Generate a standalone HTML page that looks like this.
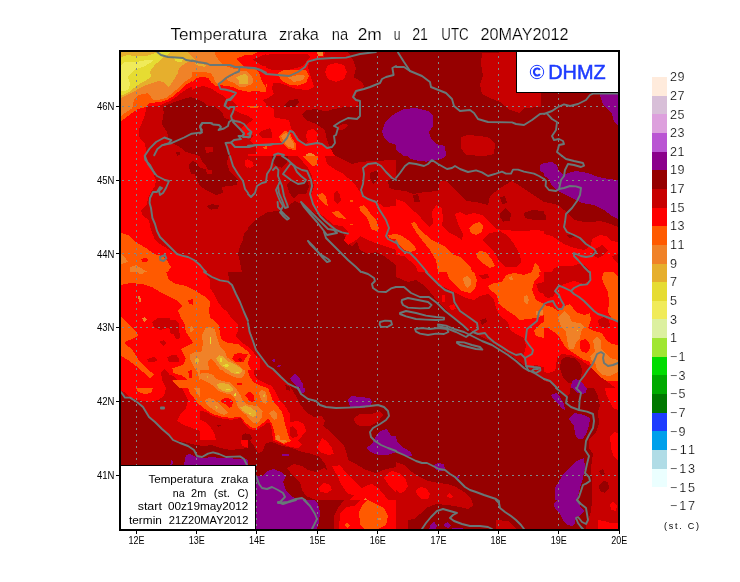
<!DOCTYPE html>
<html><head><meta charset="utf-8"><title>Temperatura zraka na 2m</title>
<style>
html,body{margin:0;padding:0;background:#fff;}
body{width:740px;height:582px;overflow:hidden;position:relative;font-family:"Liberation Sans",sans-serif;}
svg{position:absolute;left:0;top:0;will-change:transform;}
text{font-family:"Liberation Sans",sans-serif;fill:#000;}
.thin{stroke:#fff;stroke-width:0.22px;}
.cb text{stroke:#fff;stroke-width:0.2px;}
.ax{font-size:10px;}
.lg{font-size:10px;}
.cb{font-size:12.6px;}
</style></head><body>
<svg width="740" height="582" viewBox="0 0 740 582">
<defs>
<clipPath id="mapclip"><rect x="120" y="51" width="499" height="479"/></clipPath>
<clipPath id="c0"><rect x="100.0" y="40.0" width="148.0" height="116.0"/></clipPath>
<clipPath id="c1"><rect x="248.0" y="52.0" width="148.0" height="104.0"/></clipPath>
<clipPath id="c2"><rect x="396.0" y="40.0" width="148.0" height="116.0"/></clipPath>
<clipPath id="c3"><rect x="544.0" y="40.0" width="148.0" height="116.0"/></clipPath>
<clipPath id="c4"><rect x="100.0" y="156.0" width="148.0" height="116.0"/></clipPath>
<clipPath id="c5"><rect x="248.0" y="156.0" width="148.0" height="116.0"/></clipPath>
<clipPath id="c6"><rect x="396.0" y="156.0" width="148.0" height="116.0"/></clipPath>
<clipPath id="c7"><rect x="544.0" y="156.0" width="148.0" height="116.0"/></clipPath>
<clipPath id="c8"><rect x="100.0" y="272.0" width="148.0" height="116.0"/></clipPath>
<clipPath id="c9"><rect x="248.0" y="272.0" width="148.0" height="116.0"/></clipPath>
<clipPath id="c10"><rect x="396.0" y="272.0" width="148.0" height="116.0"/></clipPath>
<clipPath id="c11"><rect x="544.0" y="272.0" width="148.0" height="116.0"/></clipPath>
<clipPath id="c12"><rect x="100.0" y="388.0" width="148.0" height="116.0"/></clipPath>
<clipPath id="c13"><rect x="248.0" y="388.0" width="148.0" height="116.0"/></clipPath>
<clipPath id="c14"><rect x="396.0" y="388.0" width="148.0" height="116.0"/></clipPath>
<clipPath id="c15"><rect x="544.0" y="388.0" width="148.0" height="116.0"/></clipPath>
<clipPath id="c16"><rect x="248.0" y="500.0" width="148.0" height="40.0"/></clipPath>
<clipPath id="c17"><rect x="396.0" y="500.0" width="148.0" height="40.0"/></clipPath>
<clipPath id="c18"><rect x="544.0" y="500.0" width="148.0" height="40.0"/></clipPath>
<clipPath id="c19"><rect x="118.0" y="106.0" width="94.0" height="68.0"/></clipPath>
<clipPath id="c20"><rect x="118.0" y="48.0" width="74.0" height="58.0"/></clipPath>
<clipPath id="c21"><rect x="192.0" y="48.0" width="74.0" height="58.0"/></clipPath>
<clipPath id="c22"><rect x="200.0" y="106.0" width="74.0" height="48.0"/></clipPath>
<clipPath id="c23"><rect x="170.0" y="310.0" width="90.0" height="70.0"/></clipPath>
<clipPath id="c24"><rect x="200.0" y="370.0" width="90.0" height="70.0"/></clipPath>
</defs>
<rect x="0" y="0" width="740" height="582" fill="#fff"/>
<g clip-path="url(#mapclip)" shape-rendering="crispEdges">
<rect x="120" y="51" width="499" height="479" fill="#960000"/>
<g clip-path="url(#c0)">
<rect x="100.0" y="40.0" width="148.0" height="116.0" fill="#FF0000"/>
<polygon fill="#F08228" points="121.0,98.0 130.0,100.0 133.0,106.0 130.0,110.0 126.0,116.0 121.0,121.0"/>
<polygon fill="#FF5A00" points="133.0,106.0 146.0,106.0 140.0,110.0 132.0,117.0 126.0,122.0 121.0,125.6 121.0,121.0 126.0,116.0 130.0,110.0"/>
<polygon fill="#C80000" points="157.0,106.0 148.0,112.0 144.0,120.0 140.0,130.0 139.0,138.0 141.0,148.0 145.0,156.0 248.0,156.0 248.0,116.0 240.0,113.0 234.4,110.0 235.0,107.0 237.0,102.0 234.0,96.0 220.0,94.0 200.0,86.0 180.0,94.0 168.0,100.0"/>
<polygon fill="#960000" points="166.0,106.0 164.0,114.0 162.0,124.0 166.0,134.0 170.0,140.0 180.0,146.0 184.0,152.0 188.0,156.0 230.0,156.0 229.0,154.0 227.0,148.0 226.0,143.0 231.0,142.0 233.0,140.0 241.0,139.0 240.0,136.0 243.0,133.0 240.0,129.0 235.0,124.0 233.0,122.0 230.0,120.0 224.0,118.0 223.0,113.0 218.0,109.0 210.0,103.0 200.0,99.0 186.0,100.0 178.0,102.0"/>
</g>
<g clip-path="url(#c1)">
<rect x="248.0" y="52.0" width="148.0" height="104.0" fill="#FF0000"/>
<polygon fill="#C80000" points="257.0,58.0 264.0,55.0 278.0,53.6 286.0,54.4 300.0,54.0 308.0,54.4 310.0,57.0 306.0,62.0 302.0,66.0 296.0,68.0 288.0,70.0 272.0,70.0 262.0,66.0 257.0,62.0"/>
<polygon fill="#C80000" points="273.0,83.0 280.0,83.0 288.0,86.0 296.0,89.0 308.0,90.0 314.0,87.0 312.0,80.0 309.0,72.0 308.0,66.0 310.4,60.0 316.0,58.4 324.0,56.4 325.0,52.0 396.0,52.0 396.0,156.0 335.0,156.0 332.0,149.0 326.0,148.0 321.0,143.0 317.0,141.0 318.0,134.0 314.0,129.0 308.0,130.0 306.0,136.0 308.0,142.0 305.0,144.0 300.0,140.0 296.0,134.0 291.0,128.0 289.0,120.0 282.0,119.0 273.0,117.0 270.0,110.0 266.0,106.0 263.0,100.0 268.0,98.0 274.0,94.0 272.0,89.0"/>
<polygon fill="#FF0000" points="325.0,72.0 328.0,65.0 336.0,63.0 344.0,65.0 347.0,72.0 344.0,79.0 336.0,82.0 328.0,79.0"/>
<polygon fill="#FF0000" points="308.0,134.0 314.0,131.0 318.0,136.0 315.0,140.0 309.0,139.0"/>
<polygon fill="#C80000" points="258.0,130.0 264.0,128.0 272.0,129.0 273.0,134.0 268.0,138.0 260.0,138.0 256.0,134.0"/>
<polygon fill="#960000" points="348.0,52.0 353.0,60.0 356.0,68.0 353.6,77.0 363.0,83.0 364.0,87.0 357.0,92.0 355.0,98.0 358.0,102.0 359.0,107.0 344.0,107.0 334.0,109.0 326.0,111.6 316.0,109.0 306.0,110.4 302.0,114.4 306.0,120.0 316.0,124.0 325.0,130.0 327.0,140.0 330.0,148.0 335.0,156.0 396.0,156.0 396.0,52.0"/>
<polygon fill="#960000" points="284.0,106.0 289.0,100.0 298.0,99.0 299.0,102.4 295.0,107.0 286.0,107.4"/>
<polygon fill="#C80000" points="337.0,127.0 344.0,123.6 348.0,125.0 345.0,129.0 339.0,130.4"/>
<polygon fill="#FF5A00" points="248.0,69.0 258.0,70.0 264.0,76.0 267.0,86.0 262.0,91.0 256.0,93.0 248.0,92.4"/>
<polygon fill="#F08228" points="248.0,73.0 254.0,74.0 258.0,80.0 256.0,86.0 248.0,87.6"/>
<polygon fill="#FF5A00" points="278.0,73.0 284.0,70.0 294.0,70.0 306.0,70.0 309.0,76.0 306.0,83.0 298.0,85.6 288.0,84.4 281.0,80.0"/>
<polygon fill="#F08228" points="288.0,77.6 298.0,75.0 305.0,75.6 303.0,80.0 294.0,82.0"/>
<polygon fill="#FF5A00" points="248.0,99.0 254.0,99.0 257.0,103.0 255.0,107.6 248.0,108.4"/>
<polygon fill="#FF5A00" points="279.0,136.0 284.0,131.0 290.0,132.0 292.0,138.0 296.0,144.0 296.0,150.0 288.0,149.0 283.0,144.0 280.0,140.0"/>
<polygon fill="#F08228" points="281.0,136.4 285.0,133.2 289.0,134.0 290.6,138.4 294.4,144.0 294.4,148.0 289.0,147.2 285.0,143.0"/>
<polygon fill="#F08228" points="306.0,154.0 310.0,153.0 314.0,154.0 315.0,156.0 306.0,156.0"/>
<polygon fill="#F08228" points="317.0,52.4 323.0,52.4 323.0,55.6 318.0,55.6"/>
<polygon fill="#8B008B" points="396.0,113.0 390.0,117.0 385.0,123.0 382.0,131.0 384.0,138.0 390.0,143.0 396.0,145.0"/>
</g>
<g clip-path="url(#c2)">
<rect x="396.0" y="40.0" width="148.0" height="116.0" fill="#960000"/>
<polygon fill="#C80000" points="482.0,53.0 516.0,52.0 516.0,92.0 541.0,93.0 541.0,107.0 524.0,108.0 520.0,113.0 510.0,110.0 500.0,102.0 490.0,98.0 482.0,94.0 480.0,84.0 483.0,76.0 481.0,64.0"/>
<polygon fill="#C80000" points="461.0,137.0 468.0,135.0 480.0,136.0 490.0,138.0 495.0,144.0 494.0,154.0 484.0,156.0 466.0,155.0 461.0,148.0"/>
<polygon fill="#8B008B" points="396.0,113.0 404.0,109.0 416.0,108.0 428.0,111.0 433.0,116.0 433.0,126.0 429.0,132.0 431.0,139.0 436.0,144.0 445.0,146.0 446.0,156.0 404.0,156.0 396.0,150.0"/>
</g>
<g clip-path="url(#c3)">
<rect x="544.0" y="40.0" width="148.0" height="116.0" fill="#960000"/>
<polygon fill="#8B008B" points="599.0,93.0 618.0,93.0 618.0,126.0 614.0,122.0 612.0,114.0 608.0,110.0 603.0,104.0 601.0,98.0"/>
</g>
<g clip-path="url(#c4)">
<rect x="100.0" y="156.0" width="148.0" height="116.0" fill="#C80000"/>
<polygon fill="#FF0000" points="121.0,156.0 145.0,156.0 148.0,164.0 153.0,173.0 156.0,180.0 155.0,186.0 151.0,192.0 148.0,198.0 147.0,204.0 141.0,211.0 143.0,216.0 149.0,220.0 151.0,230.0 155.0,240.0 160.0,244.0 168.0,249.0 178.0,255.0 186.0,256.0 194.0,260.0 202.0,267.0 204.0,272.0 121.0,272.0"/>
<polygon fill="#FF5A00" points="121.0,233.0 128.0,235.0 136.0,242.0 146.0,248.0 154.0,254.0 162.0,256.0 168.0,262.0 171.0,267.0 168.0,272.0 121.0,272.0"/>
<polygon fill="#F08228" points="121.0,254.0 125.0,257.0 128.0,262.0 121.0,264.0"/>
<polygon fill="#F08228" points="130.0,267.0 136.0,265.0 146.0,271.0 147.0,272.0 130.0,272.0"/>
<polygon fill="#FF0000" points="141.0,259.0 146.0,257.6 149.0,260.0 146.0,262.0 142.0,261.6"/>
<polygon fill="#960000" points="188.0,164.0 194.0,161.0 202.0,159.0 204.0,156.0 228.0,156.0 227.0,164.0 230.0,172.0 238.0,180.0 237.0,185.0 228.0,186.0 222.0,187.0 223.0,193.0 216.0,195.0 206.0,190.0 200.0,186.0 196.0,178.0 194.0,170.0"/>
<polygon fill="#960000" points="206.0,206.0 212.0,204.0 219.0,205.6 218.0,209.0 211.0,209.6"/>
<polygon fill="#960000" points="248.0,230.0 244.0,233.0 243.0,240.0 240.0,246.0 238.0,254.0 240.0,262.0 242.0,272.0 248.0,272.0"/>
<polygon fill="#FF0000" points="245.0,160.0 248.0,159.0 248.0,168.0 245.6,167.0"/>
</g>
<g clip-path="url(#c5)">
<rect x="248.0" y="156.0" width="148.0" height="116.0" fill="#C80000"/>
<polygon fill="#960000" points="248.0,227.0 258.0,218.0 268.0,212.0 278.0,211.0 288.0,206.0 295.0,201.0 302.0,204.0 308.0,208.0 316.0,214.0 324.0,222.0 332.0,230.0 344.0,234.0 346.0,242.0 352.0,246.0 357.0,242.0 360.0,250.0 368.0,254.0 376.0,252.0 384.0,256.0 392.0,262.0 396.0,265.0 396.0,272.0 248.0,272.0"/>
<polygon fill="#960000" points="287.0,185.0 291.0,180.0 300.0,184.0 307.0,180.0 309.0,187.0 306.0,194.0 298.0,194.0 294.0,199.0 289.0,192.0"/>
<polygon fill="#960000" points="272.0,156.0 288.0,156.0 287.0,162.0 282.0,168.0 276.0,166.0 272.0,162.0"/>
<polygon fill="#960000" points="336.0,156.0 396.0,156.0 396.0,160.0 372.0,161.0 360.0,162.0 352.0,164.0 344.0,160.0"/>
<polygon fill="#960000" points="370.0,173.0 378.0,170.0 378.0,180.0 373.0,184.0 370.0,178.0"/>
<polygon fill="#960000" points="388.0,180.0 396.0,178.0 396.0,190.0 389.0,188.0"/>
<polygon fill="#FF0000" points="298.0,156.0 325.0,156.0 327.0,164.0 336.0,170.0 342.0,173.0 348.0,178.0 356.0,186.0 363.0,196.0 376.0,201.0 384.0,207.0 396.0,206.0 396.0,250.0 388.0,247.0 378.0,244.0 368.0,240.0 360.0,236.0 356.0,240.0 348.0,245.0 344.0,240.0 348.0,232.0 342.0,226.0 334.0,225.0 328.0,220.0 318.0,212.0 314.0,206.0 311.0,196.0 314.0,186.0 312.0,176.0 308.0,168.0"/>
<polygon fill="#FF0000" points="248.0,160.0 252.0,161.0 254.0,166.0 250.0,168.0 248.0,167.0"/>
<polygon fill="#C80000" points="334.0,193.0 337.0,190.0 340.0,195.0 341.0,201.0 337.0,204.0 334.0,200.0"/>
<polygon fill="#FF5A00" points="303.0,156.0 318.0,156.0 317.0,165.0 312.0,166.0 307.0,161.0"/>
<polygon fill="#FF5A00" points="318.0,195.0 322.0,193.0 326.0,197.0 328.0,206.0 324.0,204.0 319.0,199.0"/>
<polygon fill="#FF5A00" points="332.0,212.0 338.0,211.0 344.0,216.0 346.0,219.0 339.0,218.0 334.0,215.0"/>
<polygon fill="#FF5A00" points="359.0,207.0 364.0,205.0 368.0,210.0 372.0,216.0 376.0,220.0 379.0,228.0 376.0,231.0 371.0,229.0 369.0,222.0 366.0,216.0 361.0,212.0"/>
<polygon fill="#FF5A00" points="350.0,200.4 353.0,200.4 353.0,202.4 350.0,202.4"/>
<polygon fill="#FF5A00" points="350.0,223.6 353.0,223.6 353.0,225.2 350.0,225.2"/>
<polygon fill="#FF5A00" points="388.0,235.0 396.0,234.0 396.0,239.0 390.0,238.4"/>
</g>
<g clip-path="url(#c6)">
<rect x="396.0" y="156.0" width="148.0" height="116.0" fill="#960000"/>
<polygon fill="#C80000" points="396.0,190.0 406.0,191.0 413.0,194.0 418.0,193.0 426.0,192.0 438.0,191.0 440.0,181.0 446.0,181.0 454.0,189.0 462.0,196.0 466.0,201.0 476.0,202.0 488.0,205.0 490.0,196.0 500.0,188.0 512.0,181.0 520.0,186.0 532.0,194.0 544.0,202.0 544.0,272.0 396.0,272.0"/>
<polygon fill="#960000" points="413.0,195.0 418.0,194.0 420.0,202.0 414.0,201.6"/>
<polygon fill="#960000" points="500.0,197.0 505.0,196.0 507.0,203.0 502.0,204.0"/>
<polygon fill="#960000" points="500.0,213.0 506.0,208.0 511.0,214.0 510.0,221.0 503.0,221.6 500.0,217.0"/>
<polygon fill="#960000" points="524.0,213.0 532.0,210.0 544.0,211.0 544.0,220.0 534.0,220.0 525.0,218.0"/>
<polygon fill="#FF0000" points="396.0,199.0 404.0,202.0 411.0,209.0 418.0,214.0 424.0,222.0 429.0,227.0 433.0,224.0 432.0,212.0 436.0,205.0 442.0,208.0 443.0,220.0 442.0,225.0 448.0,232.0 456.0,236.0 462.0,240.0 463.0,234.0 458.0,224.0 455.0,214.0 460.0,212.0 466.0,215.0 474.0,213.0 482.0,215.0 490.0,222.0 496.0,229.0 508.0,230.4 524.0,231.0 536.0,230.0 544.0,231.0 544.0,272.0 396.0,272.0"/>
<polygon fill="#C80000" points="482.0,240.0 490.0,233.0 500.0,231.0 508.0,236.0 514.0,244.0 520.0,254.0 521.0,262.0 516.0,267.0 506.0,267.0 500.0,262.0 494.0,252.0 488.0,246.0"/>
<polygon fill="#C80000" points="396.0,255.0 404.0,256.0 410.0,261.0 416.0,266.0 418.0,272.0 396.0,272.0"/>
<polygon fill="#FF5A00" points="411.0,223.0 415.0,222.0 420.0,230.0 426.0,235.0 432.0,240.0 440.0,244.0 446.0,247.0 452.0,254.0 460.0,257.0 466.0,262.0 471.0,268.0 472.0,272.0 438.0,272.0 436.0,260.0 430.0,250.0 422.0,240.0 416.0,232.0"/>
<polygon fill="#FF5A00" points="396.0,234.0 402.0,236.0 408.0,240.0 415.0,246.0 416.0,250.0 410.0,252.0 404.0,250.0 398.0,244.0 396.0,242.0"/>
<polygon fill="#FF5A00" points="469.0,228.0 473.0,224.0 480.0,222.0 483.0,226.0 482.0,232.0 476.0,235.0 471.0,233.0"/>
<polygon fill="#FF5A00" points="476.0,254.0 480.0,251.0 486.0,252.0 492.0,260.0 495.0,266.0 490.0,268.0 484.0,264.0 478.0,259.0"/>
<polygon fill="#FF5A00" points="532.0,272.0 535.0,263.0 538.0,265.0 541.0,272.0"/>
<polygon fill="#8B008B" points="407.0,156.0 445.0,156.0 444.0,158.0 436.0,160.0 426.0,161.6 416.0,160.4 410.0,158.4"/>
<polygon fill="#8B008B" points="540.0,165.0 544.0,163.0 544.0,173.0 540.4,171.0"/>
</g>
<g clip-path="url(#c7)">
<rect x="544.0" y="156.0" width="148.0" height="116.0" fill="#960000"/>
<polygon fill="#8B008B" points="544.0,163.0 552.0,162.0 557.0,165.0 559.0,171.0 564.0,175.0 568.0,173.0 576.0,171.0 588.0,173.0 598.0,177.0 608.0,179.0 618.0,180.0 618.0,219.0 612.0,216.0 604.0,210.0 594.0,205.0 582.0,203.0 574.0,199.0 564.0,194.0 558.0,191.0 552.0,186.0 548.0,178.0 544.0,176.0"/>
<polygon fill="#C80000" points="544.0,202.0 550.0,203.0 558.0,205.0 564.0,210.0 570.0,215.0 574.0,220.0 584.0,222.0 592.0,222.0 600.0,221.0 608.0,223.0 618.0,227.0 618.0,272.0 544.0,272.0"/>
<polygon fill="#FF0000" points="544.0,234.0 552.0,236.0 558.0,240.0 564.0,244.0 574.0,248.0 584.0,250.0 591.0,246.0 592.0,239.0 600.0,235.0 606.0,236.0 612.0,241.0 618.0,242.0 618.0,272.0 544.0,272.0"/>
<polygon fill="#C80000" points="594.0,250.0 602.0,245.0 608.0,250.0 604.0,255.0 598.0,258.0 592.0,255.0"/>
<polygon fill="#C80000" points="612.0,256.0 618.0,254.0 618.0,264.0 614.0,260.0"/>
<polygon fill="#960000" points="544.0,214.0 546.4,215.0 546.0,220.0 544.0,220.4"/>
<polygon fill="#960000" points="567.0,235.0 572.0,234.0 574.0,237.0 569.0,238.0"/>
<polygon fill="#C80000" points="552.0,272.0 554.0,268.0 562.0,265.6 572.0,266.0 578.0,264.0 584.0,265.0 589.0,269.0 589.6,272.0"/>
</g>
<g clip-path="url(#c8)">
<rect x="100.0" y="272.0" width="148.0" height="116.0" fill="#FF0000"/>
<polygon fill="#FF5A00" points="121.0,272.0 166.0,272.0 169.0,280.0 176.0,284.0 186.0,286.0 194.0,290.0 204.0,296.0 210.0,302.0 209.0,312.0 212.0,322.0 218.0,330.0 224.0,338.0 230.0,344.0 240.0,348.0 248.0,350.0 248.0,388.0 172.0,388.0 173.0,380.0 172.0,370.0 180.0,366.0 184.0,360.0 181.0,350.0 192.0,342.0 188.0,332.0 184.0,324.0 180.0,316.0 177.0,311.0 182.0,306.0 176.0,300.0 168.0,296.0 160.0,292.0 152.0,287.0 142.0,284.0 130.0,283.0 121.0,285.0"/>
<polygon fill="#FF5A00" points="121.0,317.0 126.0,322.0 132.0,328.0 137.0,332.0 138.0,336.0 132.0,339.0 126.0,341.0 125.0,344.0 132.0,349.0 136.0,356.0 140.0,362.0 148.0,370.0 154.0,374.0 150.0,378.0 143.0,372.0 136.0,366.0 128.0,360.0 121.0,356.0"/>
<polygon fill="#FF0000" points="188.0,300.0 193.0,299.0 193.0,305.0 189.0,303.6"/>
<polygon fill="#FF0000" points="188.0,372.0 193.0,370.0 194.0,378.0 189.0,378.0"/>
<polygon fill="#FF0000" points="232.0,354.0 240.0,352.0 248.0,356.0 248.0,364.0 240.0,362.0 234.0,360.0"/>
<polygon fill="#C80000" points="204.0,272.0 248.0,272.0 248.0,347.0 244.0,342.0 238.0,336.0 234.0,326.0 230.0,318.0 224.0,310.0 218.0,302.0 214.0,294.0 210.0,288.0 210.0,280.0"/>
<polygon fill="#960000" points="228.0,272.0 248.0,272.0 248.0,320.0 244.0,312.0 240.0,302.0 234.0,290.0 229.0,280.0"/>
<polygon fill="#C80000" points="152.0,322.0 158.0,318.0 168.0,317.6 174.0,321.0 178.0,326.0 180.0,334.0 179.0,339.0 175.0,337.0 174.0,331.0 168.0,328.0 160.0,330.0 154.0,327.0"/>
<polygon fill="#C80000" points="159.0,342.0 164.0,340.0 166.4,343.0 163.0,346.0"/>
<polygon fill="#C80000" points="147.0,359.0 154.0,357.0 158.0,360.0 154.0,362.4 148.0,361.6"/>
<polygon fill="#C80000" points="167.0,357.0 174.0,355.0 179.0,358.0 178.0,362.0 169.0,362.0"/>
<polygon fill="#C80000" points="161.0,372.0 164.0,369.0 169.0,374.0 172.0,381.0 180.0,388.0 166.0,388.0 162.0,380.0"/>
<polygon fill="#F08228" points="190.0,354.0 196.0,351.0 202.0,348.0 203.0,338.0 206.0,331.0 210.0,328.0 215.0,331.0 217.0,340.0 220.0,346.0 228.0,354.0 236.0,362.0 244.0,370.0 245.0,376.0 240.0,379.0 230.0,378.0 220.0,376.0 214.0,380.0 212.0,388.0 204.0,388.0 200.0,380.0 198.0,372.0 194.0,366.0 190.0,360.0"/>
<polygon fill="#F08228" points="138.0,272.0 144.0,272.0 143.0,274.4 139.0,274.4"/>
<polygon fill="#F08228" points="189.0,328.0 193.0,327.0 194.0,331.0 191.0,333.0"/>
<polygon fill="#FF5A00" points="209.0,360.0 214.0,357.0 218.0,363.0 224.0,370.0 230.0,376.0 222.0,375.0 215.0,370.0 211.0,365.0"/>
<polygon fill="#E6AF2D" points="216.0,356.0 222.0,354.0 230.0,359.0 238.0,365.0 244.0,370.0 243.0,375.0 236.0,375.0 228.0,371.0 221.0,366.0 217.0,361.0"/>
<polygon fill="#E6DC32" points="218.0,358.0 223.0,356.0 228.0,361.0 232.0,365.0 228.0,367.0 222.0,364.0"/>
<polygon fill="#F0EB5A" points="224.0,364.0 228.0,364.4 229.0,366.4 225.0,366.0"/>
<polygon fill="#E6AF2D" points="216.0,383.0 228.0,384.0 240.0,386.0 248.0,388.0 214.0,388.0"/>
<polygon fill="#F08228" points="142.0,318.0 145.0,317.0 147.0,319.6 144.0,322.0"/>
<polygon fill="#F08228" points="138.0,296.0 140.0,295.6 141.6,302.0 139.0,302.4"/>
</g>
<g clip-path="url(#c9)">
<rect x="248.0" y="272.0" width="148.0" height="116.0" fill="#960000"/>
<polygon fill="#C80000" points="248.0,326.0 251.0,336.0 255.0,348.0 260.0,356.0 267.0,365.0 274.0,371.0 281.0,378.0 287.0,383.0 291.0,388.0 248.0,388.0"/>
<polygon fill="#FF0000" points="248.0,340.0 251.0,346.0 255.0,352.0 256.0,360.0 254.0,368.0 257.0,376.0 264.0,381.0 270.0,384.0 272.0,388.0 248.0,388.0"/>
<polygon fill="#FF5A00" points="248.0,352.0 251.0,354.0 250.0,360.0 248.0,362.0"/>
<polygon fill="#FF5A00" points="248.0,372.0 251.0,376.0 254.0,383.0 260.0,387.0 262.0,388.0 248.0,388.0"/>
<polygon fill="#F08228" points="248.0,381.0 251.0,384.0 253.0,388.0 248.0,388.0"/>
<polygon fill="#8B008B" points="290.0,378.0 295.0,373.6 300.0,379.0 303.0,384.0 303.0,388.0 297.0,387.0 293.0,383.0"/>
<polygon fill="#8B008B" points="272.0,360.0 274.4,358.6 275.0,361.6 273.0,362.0"/>
<polygon fill="#8B008B" points="277.0,365.6 281.0,365.0 280.0,367.0 277.6,367.0"/>
</g>
<g clip-path="url(#c10)">
<rect x="396.0" y="272.0" width="148.0" height="116.0" fill="#960000"/>
<polygon fill="#C80000" points="396.0,272.0 544.0,272.0 544.0,380.0 536.0,374.0 524.0,365.0 512.0,356.0 500.0,348.0 488.0,340.0 476.0,334.0 464.0,326.0 454.0,318.0 446.0,310.0 438.0,302.0 430.0,292.0 422.0,284.0 416.0,280.0 408.0,282.0 396.0,277.0"/>
<polygon fill="#FF0000" points="424.0,272.0 544.0,272.0 544.0,367.6 536.0,365.0 528.0,367.0 525.0,360.0 524.0,354.0 526.0,346.0 524.0,338.0 516.0,334.0 510.0,330.0 508.0,322.0 500.0,316.0 496.0,308.0 494.0,300.0 488.0,294.0 480.0,296.0 474.0,300.0 466.0,298.0 458.0,294.0 450.0,290.0 442.0,286.0 434.0,280.0 428.0,275.0"/>
<polygon fill="#FF0000" points="442.0,295.0 445.0,295.0 445.0,302.0 442.4,302.0"/>
<polygon fill="#FF0000" points="449.0,306.0 454.0,304.0 456.0,309.0 451.0,310.0"/>
<polygon fill="#C80000" points="479.0,275.0 488.0,274.0 489.0,278.0 482.0,279.0"/>
<polygon fill="#C80000" points="536.0,284.0 544.0,282.0 544.0,294.0 539.0,292.0"/>
<polygon fill="#960000" points="480.0,320.0 486.0,318.0 487.0,322.0 482.0,325.0"/>
<polygon fill="#FF5A00" points="447.0,272.0 474.0,272.0 477.0,280.0 475.0,289.0 470.0,293.0 462.0,291.0 454.0,284.0 449.0,278.0"/>
<polygon fill="#FF5A00" points="488.0,286.0 494.0,283.0 502.0,282.0 506.0,275.0 514.0,273.0 524.0,275.0 532.0,272.0 539.0,272.0 539.6,276.0 534.0,282.0 532.0,290.0 536.0,300.0 544.0,304.0 544.0,338.0 536.0,336.0 534.0,330.0 540.0,324.0 544.0,322.0 544.0,315.0 536.0,318.0 528.0,319.0 520.0,320.0 514.0,315.0 508.0,311.0 500.0,305.0 496.0,294.0 490.0,290.0"/>
<polygon fill="#F08228" points="463.0,278.0 467.0,276.0 471.0,280.0 471.0,285.0 467.0,288.0 464.0,283.0"/>
<polygon fill="#F08228" points="509.0,277.0 512.0,276.4 513.0,280.0 510.0,280.4"/>
<polygon fill="#F08228" points="524.0,296.0 527.0,295.0 529.0,300.0 527.0,305.0 524.0,302.0"/>
<polygon fill="#F08228" points="536.0,311.0 543.0,310.0 543.0,315.0 536.0,315.0"/>
</g>
<g clip-path="url(#c11)">
<rect x="544.0" y="272.0" width="148.0" height="116.0" fill="#FF0000"/>
<polygon fill="#C80000" points="544.0,272.0 589.0,272.0 590.0,280.0 584.0,284.0 574.0,281.0 564.0,284.0 556.0,290.0 554.0,296.0 548.0,298.0 544.0,296.0"/>
<polygon fill="#FF5A00" points="544.0,305.0 552.0,307.0 558.0,311.0 564.0,306.0 570.0,304.0 576.0,312.0 584.0,315.0 590.0,313.0 591.0,320.0 588.0,328.0 594.0,331.0 602.0,333.0 606.0,340.0 612.0,344.0 618.0,345.0 618.0,381.0 604.0,381.0 596.0,378.0 592.0,370.0 590.0,362.0 584.0,360.0 578.0,356.0 572.0,352.0 566.0,348.0 560.0,338.0 554.0,332.0 548.0,328.0 544.0,327.6"/>
<polygon fill="#FF5A00" points="604.0,272.0 613.0,272.0 618.0,276.0 618.0,321.0 612.0,319.0 608.0,312.0 609.0,302.0 608.0,292.0 604.0,284.0 602.0,278.0"/>
<polygon fill="#FF0000" points="580.0,341.0 585.0,339.0 589.0,342.0 590.4,348.0 587.0,353.0 582.0,352.0 579.6,347.0"/>
<polygon fill="#F08228" points="558.0,318.0 564.0,311.0 569.0,315.0 572.0,322.0 580.0,323.0 584.0,327.0 581.0,332.0 580.0,338.0 576.0,342.0 574.0,349.0 569.0,349.0 567.0,340.0 566.0,332.0 561.0,326.0"/>
<polygon fill="#F08228" points="593.0,340.0 597.0,337.0 601.0,341.0 601.0,349.0 604.0,352.0 610.0,358.0 618.0,360.0 618.0,372.0 610.0,376.0 602.0,375.0 597.0,370.0 595.0,362.0 591.0,360.0 590.4,356.0 595.0,352.0 594.0,346.0"/>
<polygon fill="#E6DC32" points="577.0,330.0 578.4,330.0 578.4,331.4 577.0,331.4"/>
<polygon fill="#C80000" points="598.0,320.0 604.0,317.0 609.0,320.0 610.0,326.0 604.0,328.4 599.0,325.6"/>
<polygon fill="#C80000" points="544.0,372.0 548.6,373.0 555.2,370.8 557.2,357.8 561.6,353.6 572.4,355.6 581.0,360.0 589.8,366.4 598.4,375.2 607.0,381.6 615.6,388.0 544.0,388.0"/>
<polygon fill="#960000" points="561.0,360.0 566.0,357.0 574.0,358.0 580.0,363.0 582.0,370.0 581.0,378.0 576.0,384.0 568.0,383.0 563.0,377.0 560.0,368.0"/>
<polygon fill="#8B008B" points="572.0,381.0 576.0,379.0 581.0,381.0 584.0,385.0 586.0,388.0 571.0,388.0"/>
<polygon fill="#960000" points="544.0,381.0 550.0,382.4 554.0,385.6 556.4,388.0 544.0,388.0"/>
</g>
<g clip-path="url(#c12)">
<rect x="100.0" y="388.0" width="148.0" height="116.0" fill="#C80000"/>
<polygon fill="#960000" points="121.0,392.0 126.0,397.0 134.0,400.0 142.0,406.0 148.0,416.0 156.0,424.0 164.0,431.0 172.0,440.0 184.0,442.0 196.0,445.0 204.0,446.0 212.0,445.0 220.0,448.0 230.0,450.0 240.0,449.0 248.0,448.0 248.0,465.0 121.0,465.0"/>
<polygon fill="#FF0000" points="121.0,388.0 166.0,388.0 164.0,396.0 158.0,400.0 148.0,402.0 138.0,400.0 130.0,397.0 124.0,392.0 121.0,391.0"/>
<polygon fill="#FF0000" points="182.0,388.0 248.0,388.0 248.0,410.0 240.0,414.0 232.0,418.0 224.0,416.0 218.0,414.0 212.0,418.0 208.0,424.0 212.0,430.0 216.0,436.0 208.0,435.0 200.0,431.0 192.0,428.0 184.0,425.0 177.0,421.0 180.0,415.0 186.0,408.0 188.0,400.0 185.0,394.0"/>
<polygon fill="#FF0000" points="220.0,428.0 228.0,420.0 240.0,414.0 248.0,411.0 248.0,448.0 242.0,446.0 240.0,438.0 232.0,434.0 224.0,433.0"/>
<polygon fill="#FF5A00" points="188.0,388.0 248.0,388.0 248.0,408.0 240.0,413.0 230.0,416.0 220.0,414.0 212.0,410.0 204.0,408.0 198.0,404.0 194.0,398.0 190.0,393.0"/>
<polygon fill="#FF5A00" points="136.0,388.0 153.0,388.0 151.0,393.0 144.0,394.0 138.0,392.0"/>
<polygon fill="#F08228" points="194.0,388.0 248.0,388.0 248.0,400.0 247.0,408.0 240.0,411.0 232.0,412.0 228.0,415.0 222.0,413.0 216.0,408.0 209.0,406.0 204.0,402.0 199.0,396.0"/>
<polygon fill="#FF5A00" points="220.0,400.0 228.0,398.0 233.0,403.0 230.0,408.0 223.0,407.0"/>
<polygon fill="#E6AF2D" points="212.0,388.0 236.0,388.0 240.0,394.0 248.0,398.0 248.0,403.0 240.0,400.0 232.0,397.0 224.0,394.0 216.0,392.0"/>
<polygon fill="#E6AF2D" points="214.0,407.0 217.0,405.0 219.0,408.0 216.0,409.6"/>
<polygon fill="#E6AF2D" points="240.0,408.0 245.0,405.0 248.0,406.0 248.0,413.0 243.0,413.0"/>
<polygon fill="#E6DC32" points="222.0,389.0 230.0,388.0 233.0,390.4 226.0,391.6"/>
<polygon fill="#8B008B" points="184.0,465.0 186.0,455.0 190.0,454.0 196.0,457.0 204.0,458.0 212.0,457.0 220.0,458.0 232.0,458.4 248.0,459.6 248.0,465.0"/>
<polygon fill="#8B008B" points="171.0,460.0 173.0,461.0 172.4,465.0 170.4,465.0"/>
</g>
<g clip-path="url(#c13)">
<rect x="248.0" y="388.0" width="148.0" height="116.0" fill="#960000"/>
<polygon fill="#C80000" points="248.0,388.0 291.0,388.0 296.0,396.0 300.0,404.0 306.0,412.0 314.0,417.0 322.0,416.0 325.0,421.0 323.0,426.0 330.0,431.0 336.0,438.0 344.0,446.0 347.0,454.0 348.0,460.0 356.0,464.0 366.0,470.0 376.0,473.0 386.0,469.0 396.0,467.0 396.0,504.0 360.0,504.0 356.0,496.0 348.0,492.0 342.0,484.0 334.0,478.0 328.0,472.0 325.0,464.0 320.0,457.0 312.0,454.0 302.0,452.0 292.0,448.0 282.0,446.0 272.0,442.0 266.0,443.0 262.0,452.0 258.0,453.0 254.0,446.0 248.0,438.0"/>
<polygon fill="#C80000" points="287.0,468.0 294.0,464.0 302.0,466.0 308.0,470.0 316.0,472.0 324.0,468.0 328.0,472.0 334.0,478.0 342.0,484.0 348.0,492.0 356.0,496.0 360.0,504.0 318.0,504.0 316.0,500.0 306.0,496.0 302.0,490.0 300.0,482.0 293.0,476.0"/>
<polygon fill="#C80000" points="354.0,418.0 360.0,414.0 372.0,414.0 380.0,411.0 383.0,415.0 378.0,422.0 370.0,426.0 360.0,426.0 355.0,423.0"/>
<polygon fill="#FF0000" points="248.0,388.0 272.0,388.0 278.0,394.0 284.0,400.0 286.0,408.0 285.0,416.0 290.0,422.0 298.0,421.0 304.0,424.0 306.0,431.0 302.0,436.0 298.0,440.0 302.0,445.0 298.0,448.0 290.0,447.0 282.0,444.0 274.0,441.0 266.0,436.0 260.0,430.0 254.0,428.0 248.0,427.0"/>
<polygon fill="#C80000" points="287.0,428.0 293.0,426.0 297.0,431.0 298.0,436.0 293.0,438.0 288.0,434.0"/>
<polygon fill="#FF0000" points="317.0,448.0 322.0,438.0 327.0,441.0 332.0,448.0 334.0,454.0 328.0,455.0 320.0,452.0"/>
<polygon fill="#FF0000" points="319.0,487.0 324.0,483.0 330.0,485.0 332.0,490.0 327.0,493.0 320.0,492.0"/>
<polygon fill="#FF0000" points="332.4,466.4 339.8,465.2 347.0,473.8 354.4,481.0 361.6,488.4 371.4,483.6 378.6,488.4 390.8,503.0 391.2,504.0 348.0,504.0 347.0,503.0 354.4,495.6 347.0,493.2 342.2,486.0 337.4,476.2"/>
<polygon fill="#FF0000" points="383.6,477.4 390.8,471.4 396.0,471.6 396.0,492.0 392.0,489.0 388.0,484.0"/>
<polygon fill="#FF5A00" points="248.0,400.0 256.0,399.0 259.0,388.0 270.0,388.0 273.0,396.0 278.0,404.0 281.0,412.0 280.0,420.0 281.0,428.0 284.0,434.0 291.0,441.0 284.0,444.0 276.0,440.0 272.0,434.0 269.0,426.0 264.0,424.0 256.0,427.0 248.0,424.0"/>
<polygon fill="#F08228" points="248.0,404.0 256.0,403.0 260.0,396.0 259.0,390.0 266.0,389.0 269.0,396.0 268.0,403.0 263.0,406.0 264.0,414.0 260.0,421.0 254.0,423.0 248.0,420.0"/>
<polygon fill="#F08228" points="269.0,414.0 274.0,410.0 277.6,414.0 276.0,420.0 271.0,420.0"/>
<polygon fill="#F08228" points="275.0,436.0 278.0,433.0 281.0,437.0 287.0,441.6 283.0,443.0 278.0,440.4"/>
<polygon fill="#E6AF2D" points="248.0,406.0 254.0,407.0 257.0,412.0 255.0,418.0 248.0,418.0"/>
<polygon fill="#E6AF2D" points="260.0,391.0 265.0,390.4 267.0,396.0 264.0,399.0 261.0,396.0"/>
<polygon fill="#E6DC32" points="249.0,412.0 252.0,411.6 252.4,415.0 249.0,415.0"/>
<polygon fill="#F08228" points="361.0,504.0 365.0,498.0 368.0,500.0 370.0,504.0"/>
<polygon fill="#8B008B" points="348.0,400.0 351.0,396.0 360.0,397.0 370.0,398.0 372.0,402.0 370.0,407.0 360.0,408.0 350.0,407.0"/>
<polygon fill="#8B008B" points="366.0,448.0 372.0,444.0 376.0,436.0 380.0,431.0 387.0,429.0 391.0,436.0 396.0,436.0 396.0,452.0 388.0,455.0 378.0,455.0 371.0,452.0"/>
<polygon fill="#8B008B" points="297.0,388.0 305.0,388.0 305.0,392.0 301.0,394.0 298.0,391.0"/>
<polygon fill="#8B008B" points="267.0,471.0 274.0,469.0 281.0,472.0 286.0,476.0 283.0,482.0 286.0,490.0 291.0,496.0 298.0,499.0 314.0,500.0 317.0,504.0 256.0,504.0 256.0,476.0 262.0,476.0"/>
<polygon fill="#8B008B" points="282.0,454.0 289.0,454.0 289.0,455.6 282.0,455.6"/>
</g>
<g clip-path="url(#c14)">
<rect x="396.0" y="388.0" width="148.0" height="116.0" fill="#960000"/>
<polygon fill="#C80000" points="396.0,462.0 404.0,465.0 412.0,472.0 420.0,477.0 428.0,481.0 438.0,483.0 448.0,484.0 456.0,487.0 464.0,492.0 471.0,499.0 473.0,504.0 396.0,504.0"/>
<polygon fill="#FF0000" points="396.0,472.0 401.0,474.0 406.0,480.0 408.0,486.0 404.0,492.0 400.0,493.0 396.0,490.0"/>
<polygon fill="#FF0000" points="416.0,490.0 421.0,487.0 427.0,489.0 430.0,494.0 428.0,499.0 422.0,499.0 417.0,495.0"/>
<polygon fill="#FF0000" points="446.0,496.0 449.0,493.0 454.0,497.0 450.0,498.0"/>
<polygon fill="#8B008B" points="396.0,438.0 398.0,443.0 404.0,448.0 411.0,452.0 412.0,456.0 407.0,456.0 401.0,454.0 396.0,452.0"/>
<polygon fill="#8B008B" points="434.0,465.0 438.0,463.0 444.0,464.0 445.0,469.0 441.0,471.6 436.0,470.0"/>
<polygon fill="#8B008B" points="457.0,476.0 459.0,476.0 459.0,478.4 457.0,478.0"/>
</g>
<g clip-path="url(#c15)">
<rect x="544.0" y="388.0" width="148.0" height="116.0" fill="#960000"/>
<polygon fill="#C80000" points="594.0,388.0 618.0,388.0 618.0,504.0 592.0,504.0 592.0,484.0 591.0,468.0 593.0,454.0 589.0,448.0 589.0,440.0 596.0,432.0 599.0,424.0 598.0,412.0 600.0,406.0 598.0,396.0"/>
<polygon fill="#C80000" points="559.0,388.0 570.0,388.0 570.0,394.0 566.0,397.0 562.0,392.0"/>
<polygon fill="#FF0000" points="605.0,388.0 618.0,388.0 618.0,410.0 613.0,408.0 609.0,400.0 606.0,394.0"/>
<polygon fill="#FF0000" points="610.0,436.0 614.0,432.0 618.0,433.0 618.0,460.0 614.0,457.0 611.0,448.0"/>
<polygon fill="#960000" points="599.0,471.0 603.0,469.0 605.0,474.0 602.0,476.0"/>
<polygon fill="#960000" points="599.0,486.0 603.0,481.0 608.0,482.0 609.0,488.0 605.0,493.0 600.0,491.0"/>
<polygon fill="#8B008B" points="551.0,395.0 556.0,393.0 560.0,397.0 564.0,404.0 565.0,410.0 562.0,409.0 558.0,403.0 553.0,399.0"/>
<polygon fill="#8B008B" points="572.0,388.0 587.0,388.0 586.0,393.0 581.0,394.0 576.0,392.0"/>
<polygon fill="#8B008B" points="569.0,419.0 574.0,413.0 584.0,415.0 590.0,418.0 589.0,426.0 586.0,434.0 583.0,439.0 578.0,439.0 575.0,434.0 574.0,426.0"/>
<polygon fill="#8B008B" points="555.0,488.0 562.0,476.0 570.0,467.0 577.0,461.0 584.0,458.0 585.0,468.0 583.0,478.0 580.0,488.0 578.0,496.0 576.0,504.0 555.0,504.0"/>
</g>
<g clip-path="url(#c16)">
<rect x="248.0" y="500.0" width="148.0" height="40.0" fill="#960000"/>
<polygon fill="#8B008B" points="256.0,500.0 314.0,500.0 318.0,504.0 320.0,512.0 319.0,522.0 317.0,529.0 256.0,529.0"/>
<polygon fill="#C80000" points="334.0,529.0 334.0,516.0 338.0,508.0 344.0,500.0 396.0,500.0 396.0,529.0"/>
<polygon fill="#FF0000" points="339.0,529.0 340.0,514.0 346.0,507.0 354.0,506.0 360.0,500.0 396.0,500.0 396.0,529.0"/>
<polygon fill="#FF5A00" points="360.0,524.0 359.0,512.0 363.0,504.0 368.0,500.0 376.0,504.0 384.0,508.0 388.0,516.0 386.0,525.0 378.0,529.0 364.0,529.0"/>
<polygon fill="#FF5A00" points="344.0,525.0 347.0,522.4 350.0,525.6 347.0,528.0"/>
<polygon fill="#F08228" points="378.0,518.0 381.0,517.6 381.0,520.4 378.0,520.4"/>
</g>
<g clip-path="url(#c17)">
<rect x="396.0" y="500.0" width="148.0" height="40.0" fill="#960000"/>
<polygon fill="#C80000" points="396.0,500.0 472.0,500.0 473.0,506.0 468.0,509.0 460.0,507.0 448.0,505.0 436.0,504.0 426.0,508.0 420.0,514.0 414.0,519.0 408.0,520.0 408.0,529.0 396.0,529.0"/>
<polygon fill="#C80000" points="496.0,520.0 508.0,521.0 514.0,526.0 516.0,529.0 496.0,529.0"/>
<polygon fill="#8B008B" points="429.0,529.0 431.0,524.0 434.0,521.0 437.0,526.0 436.0,529.0"/>
<polygon fill="#8B008B" points="443.0,525.0 448.0,522.0 451.0,526.0 448.0,528.0"/>
<polygon fill="#8B008B" points="452.0,528.0 463.0,528.0 463.0,529.0 452.0,529.0"/>
</g>
<g clip-path="url(#c18)">
<rect x="544.0" y="500.0" width="148.0" height="40.0" fill="#960000"/>
<polygon fill="#C80000" points="592.0,500.0 618.0,500.0 618.0,529.0 586.0,529.0 587.0,522.0 591.0,512.0"/>
<polygon fill="#FF0000" points="610.0,504.0 613.0,502.0 617.0,506.0 616.0,511.0 611.0,510.0"/>
<polygon fill="#FF0000" points="598.0,520.0 604.0,521.0 610.0,523.0 618.0,523.0 618.0,529.0 598.0,529.0"/>
<polygon fill="#8B008B" points="554.0,504.0 557.0,500.0 577.0,500.0 580.0,506.0 584.0,511.0 581.0,515.0 576.0,517.0 575.0,523.0 572.0,526.0 567.0,525.0 563.0,520.0 559.0,512.0 555.0,509.0"/>
</g>
<g clip-path="url(#c19)">
<rect x="118.0" y="106.0" width="94.0" height="68.0" fill="#C80000"/>
<polygon fill="#FF0000" points="121.2,100.0 168.2,100.0 161.2,102.5 146.6,107.0 144.1,117.8 139.0,129.2 139.0,136.9 145.3,143.9 146.0,153.4 145.3,159.8 149.8,164.8 153.6,171.2 154.9,174.0 121.2,174.0"/>
<polygon fill="#FF5A00" points="121.2,100.0 161.2,100.0 156.1,103.2 145.3,107.0 137.1,109.5 130.7,114.0 121.2,121.0"/>
<polygon fill="#F08228" points="121.2,100.0 133.3,100.0 133.9,104.5 131.4,108.9 125.6,112.7 121.2,115.9"/>
<polygon fill="#960000" points="175.9,100.0 212.0,100.0 212.0,170.6 207.6,169.3 205.7,164.8 201.9,161.0 199.4,155.9 193.0,154.0 185.4,151.5 179.0,146.4 172.7,143.2 168.2,138.1 167.0,131.8 161.9,124.2 163.8,112.7 163.1,107.6 168.9,105.1"/>
<polygon fill="#960000" points="175.2,152.8 179.0,151.5 180.3,154.0 177.8,155.9"/>
<polygon fill="#960000" points="188.6,165.5 192.4,161.0 196.2,162.3 199.4,167.4 205.7,169.3 207.0,174.0 191.1,174.0"/>
<polygon fill="#C80000" points="205.7,147.3 212.0,147.3 212.0,152.8 206.4,152.8"/>
</g>
<g clip-path="url(#c20)">
<rect x="118.0" y="48.0" width="74.0" height="58.0" fill="#E6AF2D"/>
<polygon fill="#E6DC32" points="121.0,57.5 127.0,55.0 138.0,56.5 148.0,55.5 157.0,52.5 158.0,52.0 170.0,52.0 168.0,55.0 163.0,57.5 160.0,60.5 155.0,64.5 150.0,71.5 151.0,76.5 146.0,80.5 140.0,83.5 136.0,86.5 133.0,88.5 129.0,92.0 124.0,94.5 121.0,95.5"/>
<polygon fill="#E6DC32" points="174.0,58.0 178.0,57.5 183.0,59.0 182.0,62.0 178.0,62.5 175.0,60.5"/>
<polygon fill="#F0EB5A" points="121.0,66.0 124.0,62.5 137.0,62.0 149.0,59.5 154.0,59.5 150.0,63.0 143.0,67.0 136.0,69.0 131.0,73.0 128.0,77.0 130.0,83.0 129.0,89.0 125.0,91.0 121.0,91.5"/>
<polygon fill="#F08228" points="121.0,98.0 127.0,95.0 133.0,92.0 140.0,88.0 146.0,85.0 152.0,83.0 158.0,81.0 163.0,82.0 166.0,85.0 168.0,87.0 171.0,84.0 175.0,78.0 178.0,73.0 179.0,68.0 183.0,65.0 188.0,62.0 192.0,60.0 192.0,106.0 121.0,106.0"/>
<polygon fill="#F08228" points="187.0,52.0 192.0,52.0 192.0,56.0 190.0,55.0"/>
<polygon fill="#FF5A00" points="133.0,106.0 134.0,99.0 138.0,95.0 148.0,93.0 151.0,97.0 153.0,100.0 160.0,99.5 166.0,98.0 170.0,95.0 176.0,90.0 181.0,85.0 186.0,81.0 192.0,77.0 192.0,106.0"/>
<polygon fill="#FF0000" points="146.0,106.0 150.0,103.0 160.0,102.0 167.0,100.0 172.0,97.0 178.0,92.0 184.0,86.0 192.0,81.0 192.0,106.0"/>
<polygon fill="#C80000" points="157.0,106.0 163.0,104.0 170.0,101.0 176.0,97.0 181.0,93.0 187.0,89.0 192.0,86.5 192.0,106.0"/>
<polygon fill="#960000" points="165.0,106.0 174.0,102.0 180.0,100.0 186.0,98.0 192.0,97.0 192.0,106.0"/>
</g>
<g clip-path="url(#c21)">
<rect x="192.0" y="48.0" width="74.0" height="58.0" fill="#FF5A00"/>
<polygon fill="#F08228" points="192.0,52.0 214.5,52.0 216.5,57.0 221.0,63.0 225.0,65.5 231.0,68.0 236.0,69.5 239.0,68.0 239.5,71.0 236.0,73.0 231.0,75.0 226.0,78.0 221.0,82.0 218.0,84.0 215.5,82.0 213.5,77.0 210.5,73.0 204.0,72.0 192.0,72.5"/>
<polygon fill="#F08228" points="226.0,79.0 231.0,76.5 236.0,73.5 240.0,70.5 246.0,70.5 251.0,75.0 253.5,80.0 252.0,84.0 246.0,86.5 239.0,86.5 234.0,83.0 230.0,81.5"/>
<polygon fill="#F08228" points="245.0,106.0 245.5,101.0 250.0,99.0 254.0,102.0 257.0,106.0"/>
<polygon fill="#E6AF2D" points="192.0,57.0 194.5,58.5 195.5,61.0 192.0,61.5"/>
<polygon fill="#E6AF2D" points="195.0,63.0 201.0,64.0 206.0,65.0 205.0,66.8 199.0,66.0 196.0,64.5"/>
<polygon fill="#E6AF2D" points="236.0,77.5 241.0,75.0 245.0,74.0 248.0,77.0 248.0,83.5 239.5,84.0 238.5,80.0"/>
<polygon fill="#FF0000" points="236.0,59.0 244.0,55.5 252.0,55.0 258.0,52.0 266.0,52.0 266.0,88.0 262.0,81.0 259.0,73.0 256.0,68.5 248.0,67.5 244.0,66.5 240.0,63.0"/>
<polygon fill="#FF0000" points="192.0,82.5 197.0,78.0 202.0,76.8 208.0,77.8 211.5,82.5 216.5,86.5 221.0,85.2 232.0,86.8 240.0,90.2 248.0,91.7 257.0,91.2 266.0,92.2 266.0,106.0 192.0,106.0"/>
<polygon fill="#C80000" points="253.0,59.5 260.0,56.5 266.0,54.0 266.0,66.0 262.0,65.5 258.0,63.0"/>
<polygon fill="#C80000" points="192.0,90.0 198.0,87.0 204.0,86.0 212.0,89.0 218.0,93.0 222.0,95.0 226.0,99.0 227.0,101.0 232.0,101.0 236.0,104.0 237.0,106.0 192.0,106.0"/>
<polygon fill="#C80000" points="263.0,100.0 266.0,98.5 266.0,104.0"/>
<polygon fill="#960000" points="192.0,98.0 197.0,99.0 203.0,102.0 207.0,106.0 192.0,106.0"/>
</g>
<g clip-path="url(#c22)">
<rect x="200.0" y="106.0" width="74.0" height="48.0" fill="#FF0000"/>
<polygon fill="#C80000" points="200.0,96.0 234.0,96.0 237.0,102.0 236.0,106.0 234.0,107.0 234.5,110.0 240.0,113.0 248.0,116.0 253.0,119.0 250.0,122.0 246.0,125.0 248.0,128.0 251.5,132.0 253.0,136.0 250.0,141.0 254.0,144.0 256.0,146.0 256.0,154.0 200.0,154.0"/>
<polygon fill="#FF0000" points="244.0,125.0 248.0,129.0 251.5,132.0 249.0,137.0 244.0,136.5 244.0,133.5 240.0,129.0"/>
<polygon fill="#960000" points="200.0,99.0 210.0,103.0 218.0,109.0 223.0,113.0 224.0,118.0 230.0,120.0 233.0,122.0 235.0,124.0 240.0,129.0 243.0,133.0 240.0,136.0 241.0,139.0 233.0,140.0 231.0,142.0 226.0,143.0 227.0,148.0 229.0,154.0 200.0,154.0"/>
<polygon fill="#C80000" points="205.0,147.0 213.0,147.0 212.5,152.0 206.0,153.0"/>
<polygon fill="#C80000" points="259.0,133.0 264.0,130.0 270.0,128.0 272.0,133.0 271.5,138.0 264.0,138.5 260.0,136.0"/>
<polygon fill="#C80000" points="264.0,96.0 274.0,96.0 274.0,109.0 270.0,107.0 266.0,100.0"/>
<polygon fill="#FF5A00" points="245.0,100.5 251.0,99.5 256.0,103.5 259.0,106.0 258.0,107.5 250.0,107.5 245.5,106.0"/>
<polygon fill="#FF5A00" points="263.0,147.0 266.5,146.0 267.0,148.5 264.0,148.8"/>
</g>
<g clip-path="url(#c23)">
<rect x="170.0" y="310.0" width="90.0" height="70.0" fill="#FF5A00"/>
<polygon fill="#FF0000" points="170.0,310.0 177.3,310.0 180.9,317.3 184.6,324.6 185.8,331.9 193.1,342.8 180.9,348.9 185.8,358.6 183.4,364.7 172.4,368.4 173.6,373.2 182.2,375.7 188.2,380.1 170.0,380.1"/>
<polygon fill="#C80000" points="170.0,320.3 176.1,320.3 179.1,323.4 179.7,338.0 176.7,339.8 173.6,334.3 170.0,333.1"/>
<polygon fill="#C80000" points="170.0,355.6 176.1,355.0 179.1,358.6 178.5,361.7 170.0,362.3"/>
<polygon fill="#C80000" points="170.0,374.5 173.6,376.3 177.3,380.1 170.0,380.1"/>
<polygon fill="#FF0000" points="208.9,310.0 260.0,310.0 260.0,380.1 253.9,380.1 252.7,373.2 247.8,363.5 249.1,358.6 250.9,355.6 247.8,351.4 238.1,344.1 227.2,342.8 221.1,339.2 219.9,331.9 218.6,324.6 210.1,317.3"/>
<polygon fill="#C80000" points="225.9,310.0 260.0,310.0 260.0,358.6 256.4,356.2 252.7,351.4 247.8,346.5 241.8,342.8 235.7,336.1 238.1,330.7 238.1,324.6 230.8,317.3"/>
<polygon fill="#960000" points="243.0,310.0 260.0,310.0 260.0,355.0 255.1,345.3 251.5,334.3 247.8,323.4"/>
<polygon fill="#FF0000" points="232.0,358.6 234.5,353.8 240.5,353.2 247.8,354.4 245.4,358.6 243.0,362.3 235.7,362.3"/>
<polygon fill="#C80000" points="237.5,359.3 240.5,358.0 243.0,359.9 240.5,361.7"/>
<polygon fill="#FF0000" points="188.2,370.8 191.9,370.2 192.5,378.1 189.5,378.1"/>
<polygon fill="#F08228" points="202.2,334.3 205.3,328.2 210.1,327.0 215.0,329.5 216.8,336.8 219.9,346.5 224.7,351.4 227.2,357.4 232.0,361.1 239.3,365.9 245.4,372.0 246.0,376.9 240.5,378.1 233.2,376.3 227.2,373.2 221.1,370.8 217.4,365.9 215.0,362.3 211.4,358.6 207.7,361.1 208.9,368.4 212.6,375.7 215.0,380.1 199.2,380.1 198.0,373.2 194.3,367.2 189.5,358.6 189.5,355.0 193.1,352.6 201.6,351.4 202.8,344.1"/>
<polygon fill="#F08228" points="189.5,328.2 191.9,325.8 193.7,329.5 191.9,332.5 190.1,331.3"/>
<polygon fill="#E6AF2D" points="216.2,358.6 219.3,355.0 223.5,356.8 227.2,361.1 233.2,363.5 239.3,367.2 243.0,370.8 241.8,374.5 236.3,373.9 230.8,372.0 224.7,368.4 219.9,364.7"/>
<polygon fill="#E6AF2D" points="194.9,359.9 197.4,357.4 199.2,360.5 197.4,364.1 195.5,362.9"/>
<polygon fill="#E6DC32" points="219.3,358.6 221.7,358.0 222.5,361.7 220.1,362.1"/>
<polygon fill="#E6DC32" points="222.9,365.3 227.2,363.5 229.6,365.9 225.9,367.4"/>
<polygon fill="#E6DC32" points="235.7,372.0 238.1,371.8 238.4,373.5 235.9,373.5"/>
<polygon fill="#E6DC32" points="209.9,336.8 210.9,336.8 211.1,344.1 210.1,344.1"/>
<polygon fill="#E6DC32" points="207.1,375.7 207.9,375.7 207.9,377.9 207.1,377.9"/>
</g>
<g clip-path="url(#c24)">
<rect x="200.0" y="370.0" width="90.0" height="70.0" fill="#FF5A00"/>
<polygon fill="#FF0000" points="247.4,370.0 249.9,377.3 253.5,382.2 260.8,385.8 268.1,388.2 270.5,394.3 273.0,401.6 277.8,406.5 281.5,411.4 283.9,418.6 285.1,424.7 287.6,433.2 290.0,440.1 290.0,370.0"/>
<polygon fill="#C80000" points="253.5,370.0 254.7,376.1 258.4,379.7 265.7,383.4 271.8,385.8 275.4,391.9 279.1,399.2 283.9,404.1 287.6,410.1 290.0,413.8 290.0,370.0"/>
<polygon fill="#960000" points="273.0,370.0 277.8,373.6 282.7,378.5 287.6,383.4 290.0,385.8 290.0,370.0"/>
<polygon fill="#960000" points="285.1,384.6 290.0,387.0 290.0,390.7 286.4,389.5"/>
<polygon fill="#FF0000" points="200.0,404.1 204.9,408.9 212.2,413.8 221.9,416.8 231.6,418.0 237.7,416.8 241.4,417.4 245.0,422.3 251.1,427.2 255.9,428.4 260.8,424.7 265.7,421.1 268.1,418.6 271.8,423.5 274.2,430.8 275.4,440.1 200.0,440.1"/>
<polygon fill="#C80000" points="200.0,410.7 206.1,412.0 212.2,415.6 221.9,418.6 231.6,419.9 237.7,418.6 240.7,418.0 243.8,423.5 249.9,429.0 255.9,430.2 262.0,426.6 266.3,423.5 269.3,422.3 271.2,427.2 272.4,434.5 273.0,440.1 215.8,440.1 215.2,435.7 212.2,429.6 207.3,423.5 202.4,420.5 200.0,419.9"/>
<polygon fill="#960000" points="241.4,435.7 245.0,433.2 249.9,434.5 252.3,438.1 251.1,440.1 242.0,440.1"/>
<polygon fill="#960000" points="217.0,425.0 221.3,424.5 221.6,426.2 218.2,426.6"/>
<polygon fill="#F08228" points="200.0,373.6 207.3,373.0 213.4,374.9 215.8,378.5 221.9,380.9 229.2,382.2 232.8,385.8 236.5,389.5 240.1,394.3 242.6,400.4 246.2,404.1 252.3,405.3 258.4,406.5 262.6,411.4 262.0,417.4 258.4,422.3 253.5,423.5 249.9,419.9 246.2,415.0 241.4,411.4 237.7,406.5 235.3,399.2 230.4,394.3 224.3,393.1 218.2,390.7 213.4,385.8 207.3,382.2 200.0,378.5"/>
<polygon fill="#F08228" points="223.1,370.0 245.0,370.0 244.4,374.9 241.4,378.5 235.3,377.3 229.2,374.9 224.9,372.4"/>
<polygon fill="#F08228" points="259.0,391.9 262.0,390.1 265.7,391.9 267.5,398.0 266.3,404.1 263.2,402.8 260.2,398.0"/>
<polygon fill="#F08228" points="269.3,413.2 273.0,410.1 276.6,412.6 277.2,418.6 274.2,419.9 271.2,416.8"/>
<polygon fill="#F08228" points="204.9,400.4 208.5,398.0 213.4,399.2 218.2,402.8 223.1,407.7 228.6,412.6 224.3,415.0 218.2,412.6 212.2,408.9 207.3,405.3"/>
<polygon fill="#F08228" points="275.4,436.3 278.4,434.5 280.3,436.9 279.7,440.1 276.0,440.1"/>
<polygon fill="#E6AF2D" points="216.4,384.6 220.7,382.8 228.0,384.0 232.2,387.6 233.4,390.7 229.2,392.1 223.7,391.3 218.9,388.2"/>
<polygon fill="#E6AF2D" points="228.0,370.0 242.0,370.0 241.4,373.0 236.5,374.3 231.0,372.4"/>
<polygon fill="#E6AF2D" points="240.1,407.7 245.0,405.3 251.1,407.7 255.9,411.4 256.6,416.2 252.3,416.8 247.4,413.8 242.6,410.7"/>
<polygon fill="#E6AF2D" points="262.6,394.9 264.5,394.1 265.7,395.8 264.5,397.4 263.0,396.8"/>
<polygon fill="#E6AF2D" points="215.2,406.5 217.0,405.6 218.0,407.7 216.4,408.9"/>
<polygon fill="#E6AF2D" points="206.7,376.1 207.9,375.5 208.3,377.9 207.1,378.3"/>
<polygon fill="#E6DC32" points="226.1,388.9 229.8,388.9 229.8,390.1 226.1,390.1"/>
<polygon fill="#E6DC32" points="235.9,371.8 238.9,371.8 238.9,373.0 235.9,373.0"/>
<polygon fill="#E6DC32" points="248.6,412.8 251.1,412.8 251.1,413.8 248.6,413.8"/>
<polygon fill="#E6DC32" points="234.1,394.3 235.5,393.1 235.9,395.5 234.4,395.9"/>
<polygon fill="#FF0000" points="245.0,394.9 249.9,391.3 253.5,394.9 254.7,401.0 251.1,401.9 248.0,399.2"/>
<polygon fill="#FF0000" points="220.7,400.4 224.3,398.2 230.4,398.6 232.8,401.6 232.2,407.1 229.2,407.7 226.1,404.1 221.9,402.6"/>
<polygon fill="#FF0000" points="237.1,382.8 242.0,382.8 242.0,384.6 237.1,384.6"/>
</g>
</g>
<g clip-path="url(#mapclip)" fill="none" stroke="#808888" stroke-width="1" stroke-dasharray="2 4" shape-rendering="crispEdges">
<path d="M136.5 50V530M196.5 50V530M256.5 50V530M317.5 50V530M377.5 50V530M438.5 50V530M498.5 50V530M558.5 50V530"/>
<path d="M116 106.5H619M116 180.5H619M116 253.5H619M116 327.5H619M116 401.5H619M116 475.5H619"/>
</g>
<g clip-path="url(#mapclip)" fill="none" stroke="#687878" stroke-width="1.9" stroke-linejoin="round" stroke-linecap="round">
<polyline points="154.9,174.0 149.8,164.8 145.3,159.8 144.7,155.9 149.8,148.3 156.1,142.0 164.4,137.5 171.4,140.1 168.9,143.2 162.5,145.1 157.4,149.0 154.2,155.3"/>
<polyline points="162.5,145.1 171.4,143.2 184.1,137.5 191.7,133.7 201.3,132.4 201.9,129.9 200.0,127.3 202.6,122.9 212.0,123.1"/>
<polyline points="157.5,52.2 161.0,55.0 168.0,57.0 176.0,57.5 183.0,58.0 186.0,60.0 192.0,61.0"/>
<polyline points="192.0,60.5 198.0,62.0 207.0,63.5 210.0,65.0 230.0,65.0 235.0,67.0 240.0,67.0 254.0,68.0 262.0,70.5 266.0,72.5"/>
<polyline points="239.5,67.2 239.0,71.5 235.0,73.0 230.0,75.5 226.0,78.0 222.0,81.5 218.5,84.0 220.5,89.0 225.0,89.5 231.0,91.0 236.0,93.0 233.0,97.0 230.5,100.0 227.0,100.0 225.0,104.0 224.5,106.0"/>
<polyline points="233.0,96.0 230.0,99.0 227.0,100.0 225.0,106.0 229.0,109.0 230.0,107.0 234.5,107.0 233.0,112.0 231.0,116.0 232.0,120.0 229.0,122.0 228.0,126.0 224.0,128.5 218.5,130.0 221.0,127.0 219.0,125.0 213.0,124.5 210.0,123.0 202.0,123.0 200.0,126.0 201.0,130.0 202.0,132.5 200.0,133.5"/>
<polyline points="232.0,120.0 235.0,121.0 240.0,122.0 244.0,124.0 248.0,129.0 251.5,132.0 249.0,137.0 243.0,137.0 244.0,133.5 240.0,129.0 236.0,125.0 233.0,122.0"/>
<polyline points="244.0,133.5 242.0,136.0 238.5,136.0 241.0,139.0 234.0,140.0 231.0,142.5 225.5,143.0 227.0,147.0 229.0,154.0"/>
<polyline points="231.0,142.5 235.0,147.0 249.0,147.0 256.0,145.0 270.0,145.0 273.0,144.0"/>
<polyline points="248.0,68.0 256.0,68.4 260.0,70.0 266.0,74.0 278.0,75.0 289.0,76.0 298.0,72.0 305.0,67.0 308.0,61.6 317.0,59.0 332.0,58.0 346.0,57.6 360.0,54.0 376.0,52.0"/>
<polyline points="396.0,66.0 392.4,68.0 393.6,75.0 386.0,77.0 382.0,79.0 380.0,83.0 370.0,87.0 364.0,89.0 356.0,91.0 353.0,97.0 356.0,100.0 360.0,101.0 360.0,116.0 357.0,119.0 348.0,118.0 340.0,122.0 334.0,126.0 338.0,128.0 336.0,135.0 334.0,136.0 335.0,143.0 332.0,147.0 327.0,148.0 322.0,144.0 317.0,143.0 306.0,145.0 298.0,140.0 293.0,132.0 290.0,131.0 287.0,138.0 282.0,143.6 268.0,144.4 248.0,145.6"/>
<polyline points="248.0,134.0 251.0,132.0 250.0,137.0 248.0,137.6"/>
<polyline points="274.0,155.0 278.0,153.4 284.0,155.0"/>
<polyline points="396.0,67.0 404.0,67.0 410.0,71.0 422.0,76.0 430.0,82.0 431.0,87.0 436.0,89.0 446.0,93.0 452.0,99.0 454.0,106.0 460.0,111.0 470.0,110.0 474.0,113.0 478.0,119.0 488.0,122.0 512.0,122.4 516.0,124.0 524.0,125.0 532.0,120.0 540.0,114.0 544.0,113.6"/>
<polyline points="398.0,52.4 404.0,62.0 410.0,71.0"/>
<polyline points="544.0,114.0 552.0,111.0 558.0,107.0 564.0,104.4 570.0,106.0 578.0,104.0 586.0,100.0 590.0,95.0 593.0,93.6 618.0,93.6"/>
<polyline points="547.0,113.6 552.0,119.0 557.0,122.0 556.0,130.0 552.0,136.0 554.0,140.0 559.0,139.0 563.0,141.0 564.0,144.0 559.0,145.0 558.0,149.0 557.0,152.0 562.0,156.0"/>
<polyline points="145.0,156.0 148.0,164.0 153.0,171.0 157.0,176.0 165.0,180.0 169.0,181.0 166.0,188.0 163.0,193.0 160.0,195.0 159.0,191.0 162.0,188.0 160.0,187.0 157.0,192.0 153.0,192.0 150.0,198.0 149.6,203.0 151.0,208.0 152.4,218.0 155.0,224.0 157.0,231.0 160.0,237.0 165.0,242.0 170.0,247.0 177.0,254.0 182.0,255.6 188.0,257.0 194.0,260.0 200.0,265.0 204.0,270.0 206.0,272.0"/>
<polyline points="230.0,156.0 233.0,166.0 238.0,174.0 243.0,181.0 245.0,189.0 248.0,193.0"/>
<polyline points="160.0,257.0 165.0,255.0 166.4,258.4 163.6,261.0 160.4,260.0 160.0,257.0"/>
<polyline points="248.0,194.0 251.0,197.0 255.0,193.0 257.0,186.0 262.0,183.0 266.0,182.0 267.0,174.0 271.0,168.0 273.0,160.0 275.0,156.0"/>
<polyline points="282.0,156.0 288.0,160.0 291.0,163.0 283.0,174.0 291.0,180.0 298.0,184.0 304.0,183.0 306.0,180.0 301.0,176.0 297.0,172.0 294.0,166.0 291.0,163.0"/>
<polyline points="291.0,163.0 296.0,167.0 302.0,170.0 307.0,171.0 311.0,180.0 312.0,186.0 310.0,194.0 313.0,204.0 317.0,211.0 320.0,216.0 325.0,221.0 331.0,226.0 336.0,230.0 342.0,232.4 348.0,233.6"/>
<polyline points="273.0,170.0 276.0,167.0 278.4,170.0 278.0,176.0 280.0,181.0 282.0,186.0 284.0,196.0 287.0,204.0 288.0,207.0 285.0,208.0 282.0,200.0 279.0,193.0 278.0,186.0 280.0,181.0"/>
<polyline points="278.0,186.0 276.0,190.0 278.0,196.0 280.0,201.0 283.0,206.0 281.0,210.0 278.0,207.0 277.6,202.0"/>
<polyline points="281.0,211.0 285.0,215.0 289.0,218.4 287.0,219.6 283.0,216.0 280.0,212.4 281.0,211.0"/>
<polyline points="301.0,202.0 306.0,207.0 312.0,213.0 318.0,219.0 324.0,225.0 328.0,229.0 334.0,230.0 337.0,233.0 332.0,234.0 327.0,235.0 324.0,231.0 317.0,222.0 310.0,214.0 304.0,207.0 301.0,202.0"/>
<polyline points="324.0,232.0 326.0,238.0 334.0,246.0 342.0,254.0 348.0,260.0 356.0,267.0 361.0,272.0"/>
<polyline points="308.0,241.0 314.0,247.0 320.0,254.0 328.0,259.0 330.0,261.0 327.0,262.0 322.0,257.0 316.0,250.0 310.0,244.0 308.0,241.0"/>
<polyline points="363.0,196.0 361.0,190.0 363.0,184.0 364.0,174.0 363.0,168.0 368.0,164.0 376.0,163.0 381.0,166.0 386.0,172.0 392.0,178.0 396.0,180.0"/>
<polyline points="363.0,196.0 368.0,199.0 376.0,202.0 379.0,209.0 386.0,220.0 389.0,228.0 386.0,236.0 388.0,239.0 396.0,243.0"/>
<polyline points="396.0,178.0 400.0,173.0 405.0,166.0 409.0,163.0 416.0,164.0 424.0,166.0 428.0,164.0 432.0,160.0 438.0,164.0 447.0,169.0 452.0,168.0 455.0,166.0 460.0,169.0 468.0,172.0 476.0,170.4 482.0,172.4 488.0,176.0 496.0,173.6 502.0,171.6 506.0,173.6 511.0,173.6 513.0,169.6 518.0,169.6 524.0,171.6 534.0,173.6 539.0,176.0 544.0,179.0"/>
<polyline points="396.0,241.0 399.0,247.0 404.0,251.6 410.0,253.0 416.0,259.0 422.0,266.0 427.0,272.0"/>
<polyline points="562.0,156.0 566.0,159.0 574.0,161.0 583.0,163.0 584.0,165.6 581.0,167.0 574.0,165.0 568.0,164.0 565.0,170.0 564.0,176.0 561.0,180.0 559.0,189.0 564.0,188.0 570.0,186.0 576.0,186.4 581.0,188.0 580.0,195.0 577.0,201.0 572.0,208.0 566.0,214.0 565.0,222.0 564.0,227.0 567.0,232.0 574.0,235.0 580.0,238.0 586.0,244.0 594.0,249.0 596.0,252.0 592.0,256.0 586.0,257.0 581.0,256.0 574.0,253.0 574.0,256.0 578.0,260.0 584.0,267.0 589.0,272.0"/>
<polyline points="544.0,179.0 546.0,181.0 545.6,186.0 549.0,190.0 556.0,191.0 559.0,189.0"/>
<polyline points="204.0,272.0 212.0,277.0 220.0,280.4 228.0,281.6 232.0,285.0 236.0,294.0 240.0,302.0 244.0,312.0 248.0,321.0"/>
<polyline points="248.0,323.0 249.6,332.0 253.0,341.0 256.0,350.0 262.0,358.0 268.0,366.0 273.0,369.0 281.0,377.0 288.0,383.6 295.0,387.0 298.0,388.0"/>
<polyline points="362.0,272.0 368.0,274.0 374.0,278.0 375.0,281.0 372.0,284.0 373.0,288.0 378.0,291.6 386.0,292.0 391.0,288.4 396.0,287.0"/>
<polyline points="380.0,322.0 385.0,320.6 391.0,321.0 392.0,324.4 388.0,326.6 381.0,327.0 379.6,324.4 380.0,322.0"/>
<polyline points="426.0,272.0 438.0,284.0 445.0,290.0 453.0,293.0 454.4,302.0 460.0,311.0 470.0,318.0 477.0,323.0 478.0,329.0 473.0,332.0 478.0,334.0 485.0,333.0 488.0,337.0 494.0,342.0 502.0,347.0 508.0,351.0 516.0,355.0 521.0,354.0 525.0,358.0 526.0,365.0 528.0,370.0"/>
<polyline points="544.0,305.0 539.0,312.0 537.0,321.0 532.0,325.0 527.0,329.0 525.6,340.0 529.0,345.0 533.0,350.0 532.0,354.0 525.0,358.0"/>
<polyline points="402.0,300.0 408.0,298.0 418.0,300.0 428.0,302.0 431.6,305.0 429.0,308.0 420.0,308.4 408.0,307.6 403.0,305.0 401.6,302.0 402.0,300.0"/>
<polyline points="400.0,313.0 406.0,311.0 416.0,313.0 426.0,315.6 436.0,317.0 444.0,317.6 444.0,319.6 436.0,320.0 426.0,319.6 416.0,319.0 406.0,316.4 400.0,314.0 400.0,313.0"/>
<polyline points="415.0,329.0 422.0,328.0 430.0,329.0 438.0,328.0 447.0,329.0 448.4,332.0 444.0,334.0 436.0,333.6 428.0,335.0 420.0,333.6 416.0,331.6 415.0,329.0"/>
<polyline points="438.0,324.4 446.0,325.6 454.0,329.0 464.0,332.0 472.0,336.0 482.0,341.0 492.0,345.0 500.0,350.0 508.0,355.0 516.0,361.0 524.0,368.0 529.0,371.0"/>
<polyline points="438.0,326.0 446.0,328.0 456.0,332.0 466.0,337.0 473.0,332.0"/>
<polyline points="457.0,342.0 464.0,342.4 472.0,345.0 480.0,347.0 482.4,349.6 476.0,349.0 468.0,347.0 460.0,345.0 457.0,343.0 457.0,342.0"/>
<polyline points="396.0,287.0 404.0,287.0 411.0,293.0 420.0,297.0 429.0,297.0 437.0,303.0 445.0,311.0 454.0,318.0 462.0,324.4 468.0,330.0"/>
<polyline points="526.0,366.0 534.0,367.0 540.0,367.6 540.4,370.4 536.0,373.0 532.0,371.0 534.0,369.0 538.0,369.0"/>
<polyline points="528.0,370.0 536.0,374.0 544.0,379.0"/>
<polyline points="590.0,272.0 590.4,280.0 587.0,284.4 580.0,285.0 574.0,288.0 571.0,291.0 574.0,294.0 579.0,297.0 584.0,301.0 589.0,306.0 594.0,311.0 598.0,314.0 604.0,316.0 612.0,319.0 618.0,321.6"/>
<polyline points="571.0,291.0 564.0,287.6 559.0,285.6 555.0,291.0 559.0,295.0 561.0,300.0 564.0,305.0 562.0,309.0 558.0,309.0 555.0,305.0 553.0,301.0 548.0,302.0 544.0,304.0"/>
<polyline points="618.0,363.0 613.0,365.0 608.0,366.0 604.0,363.0 603.0,358.0 604.0,354.0 601.0,352.0 597.0,354.0 595.0,359.0 592.0,365.0 588.0,370.0 584.0,376.0 580.0,381.0 577.0,388.0"/>
<polyline points="544.0,379.0 550.0,381.0 554.0,385.0 557.0,388.0"/>
<polyline points="121.0,392.0 125.0,397.6 130.0,397.6 137.0,402.0 143.0,407.0 149.0,417.0 155.0,422.0 162.0,429.0 169.0,435.0 173.0,440.0 180.0,443.0 188.0,446.0 194.0,450.0 197.0,456.0 202.0,457.0 208.0,453.6 213.0,452.4 219.0,454.0 226.0,457.0 234.0,456.6 240.0,456.4 244.0,459.0 247.0,465.0"/>
<polyline points="161.0,407.4 164.0,407.4 164.0,408.6 161.0,408.6 161.0,407.4"/>
<polyline points="298.0,388.0 301.0,394.0 308.0,399.0 316.0,401.0 320.0,405.0 326.0,407.0 336.0,408.0 348.0,407.6 360.0,407.0 370.0,406.0 378.0,405.0 384.0,407.0 388.0,411.0 389.0,416.0 386.0,420.0 380.0,424.0 373.0,428.0 370.0,432.0 371.0,437.0 375.0,441.0 381.0,445.0 388.0,448.0 396.0,451.0"/>
<polyline points="256.0,476.0 259.0,484.0 262.0,488.0 267.0,489.0 272.0,487.0 278.0,490.0 283.0,493.0 285.0,497.0 281.0,501.0 278.0,503.0 288.0,502.0 296.0,499.0 302.0,498.0 305.0,500.0 308.0,504.0"/>
<polyline points="396.0,451.6 404.0,455.0 410.0,458.0 416.0,461.0 422.0,463.0 427.0,463.0 433.0,466.0 439.0,469.0 445.0,470.0 450.0,474.0 455.0,477.0 460.0,482.0 465.0,487.0 470.0,490.0 476.0,492.0 484.0,495.0 490.0,497.0 496.0,499.0 499.0,501.0 499.0,504.0"/>
<polyline points="556.0,388.0 561.0,392.0 567.0,397.0 566.0,403.0 571.0,407.0 579.0,410.0 587.0,411.6 593.0,414.0 594.0,421.0 593.0,428.0 589.0,435.0 586.0,441.0 585.0,450.0 587.0,453.0 589.0,456.0 587.0,464.0 585.0,473.0 589.0,477.0 590.0,481.0 586.0,483.6 583.0,485.0 581.0,491.0 579.0,497.0 577.0,500.0 580.0,504.0"/>
<polyline points="576.0,388.0 581.0,393.0 579.6,400.0 579.0,410.0"/>
<polyline points="278.0,502.0 283.0,504.0 288.0,502.4 296.0,500.0"/>
<polyline points="304.0,500.0 310.0,506.0 315.0,514.0 317.0,519.0 314.0,525.0 312.0,529.0"/>
<polyline points="422.0,529.0 426.0,523.0 431.0,517.0 437.0,511.0 443.0,509.0 450.0,511.0 457.0,513.0 453.0,515.0 450.0,518.0 454.0,521.0 462.0,524.0 470.0,526.0 480.0,526.0 488.0,527.0 492.0,529.0"/>
<polyline points="496.0,500.0 499.0,503.0 500.0,508.0 505.0,512.0 511.0,516.0 516.0,520.0 521.0,525.0 524.0,529.0"/>
<polyline points="577.0,500.0 581.0,504.0 586.0,508.0 587.0,514.0 588.0,520.0 586.0,524.0 582.0,522.0 578.0,517.0 576.0,518.0 578.0,523.0 581.0,527.0 583.0,529.0"/>
</g>
<!-- logo box -->
<rect x="516.5" y="51" width="103" height="41.5" fill="#fff" stroke="#000" stroke-width="1.5" shape-rendering="crispEdges"/>
<g fill="none" stroke="#1e3cff">
<circle cx="537" cy="72" r="6.7" stroke-width="1"/>
<path d="M539.9 69.9a3.3 3.5 0 1 0 0 4.2" stroke-width="2.2"/>
</g>
<text x="548.2" y="79" font-size="19.6" textLength="57.4" lengthAdjust="spacingAndGlyphs" style="fill:#1e3cff;stroke:#1e3cff;stroke-width:0.5px">DHMZ</text>
<!-- legend box -->
<rect x="120" y="465.5" width="135.7" height="64.5" fill="#fff" stroke="#000" stroke-width="1.5" shape-rendering="crispEdges"/>
<text class="lg" x="148.5" y="483.1" textLength="64.9" lengthAdjust="spacingAndGlyphs">Temperatura</text>
<text class="lg" x="220.7" y="483.1" textLength="27.7" lengthAdjust="spacingAndGlyphs">zraka</text>
<text class="lg" x="172.7" y="496.7" textLength="11.9" lengthAdjust="spacingAndGlyphs">na</text>
<text class="lg" x="191.1" y="496.7" textLength="15.1" lengthAdjust="spacingAndGlyphs">2m</text>
<text class="lg" x="213.8" y="496.7" textLength="16.2" lengthAdjust="spacingAndGlyphs">(st.</text>
<text class="lg" x="237.6" y="496.7" textLength="10.8" lengthAdjust="spacingAndGlyphs">C)</text>
<text class="lg" x="137.7" y="510.3" textLength="24.2" lengthAdjust="spacingAndGlyphs">start</text>
<text class="lg" x="167.9" y="510.3" textLength="80.5" lengthAdjust="spacingAndGlyphs">00z19may2012</text>
<text class="lg" x="129.0" y="523.8" textLength="32.9" lengthAdjust="spacingAndGlyphs">termin</text>
<text class="lg" x="168.8" y="523.8" textLength="79.6" lengthAdjust="spacingAndGlyphs">21Z20MAY2012</text>
<!-- frame -->
<rect x="120" y="51" width="499" height="479" fill="none" stroke="#000" stroke-width="2" shape-rendering="crispEdges"/>
<!-- ticks -->
<g stroke="#000" stroke-width="1" shape-rendering="crispEdges">
<path d="M136.5 531V534M196.5 531V534M256.5 531V534M317.5 531V534M377.5 531V534M438.5 531V534M498.5 531V534M558.5 531V534M619.5 531V534"/>
<path d="M115.5 106.5H119M115.5 180.5H119M115.5 253.5H119M115.5 327.5H119M115.5 401.5H119M115.5 475.5H119"/>
</g>
<g class="ax" text-anchor="middle">
<text x="136.5" y="543.8" textLength="16" lengthAdjust="spacingAndGlyphs">12E</text>
<text x="196.7" y="543.8" textLength="16" lengthAdjust="spacingAndGlyphs">13E</text>
<text x="257" y="543.8" textLength="16" lengthAdjust="spacingAndGlyphs">14E</text>
<text x="317.5" y="543.8" textLength="16" lengthAdjust="spacingAndGlyphs">15E</text>
<text x="377.8" y="543.8" textLength="16" lengthAdjust="spacingAndGlyphs">16E</text>
<text x="438.4" y="543.8" textLength="16" lengthAdjust="spacingAndGlyphs">17E</text>
<text x="498.5" y="543.8" textLength="16" lengthAdjust="spacingAndGlyphs">18E</text>
<text x="558.8" y="543.8" textLength="16" lengthAdjust="spacingAndGlyphs">19E</text>
<text x="619.2" y="543.8" textLength="16" lengthAdjust="spacingAndGlyphs">20E</text>
</g>
<g class="ax" text-anchor="end">
<text x="114.4" y="110" textLength="17.5" lengthAdjust="spacingAndGlyphs">46N</text>
<text x="114.4" y="183.8" textLength="17.5" lengthAdjust="spacingAndGlyphs">45N</text>
<text x="114.4" y="257.5" textLength="17.5" lengthAdjust="spacingAndGlyphs">44N</text>
<text x="114.4" y="331.3" textLength="17.5" lengthAdjust="spacingAndGlyphs">43N</text>
<text x="114.4" y="405" textLength="17.5" lengthAdjust="spacingAndGlyphs">42N</text>
<text x="114.4" y="478.8" textLength="17.5" lengthAdjust="spacingAndGlyphs">41N</text>
</g>
<!-- title -->
<text class="thin" x="170.4" y="40.3" font-size="16.6" textLength="96.6" lengthAdjust="spacingAndGlyphs">Temperatura</text>
<text class="thin" x="278.9" y="40.3" font-size="16.6" textLength="40.1" lengthAdjust="spacingAndGlyphs">zraka</text>
<text class="thin" x="331.8" y="40.3" font-size="16.6" textLength="16.4" lengthAdjust="spacingAndGlyphs">na</text>
<text class="thin" x="357.7" y="40.3" font-size="16.6" textLength="24.2" lengthAdjust="spacingAndGlyphs">2m</text>
<text class="thin" x="393.8" y="40.3" font-size="16.6" textLength="6.8" lengthAdjust="spacingAndGlyphs">u</text>
<text class="thin" x="412.2" y="40.3" font-size="16.6" textLength="15.8" lengthAdjust="spacingAndGlyphs">21</text>
<text class="thin" x="441.3" y="40.3" font-size="16.6" textLength="27.4" lengthAdjust="spacingAndGlyphs">UTC</text>
<text class="thin" x="480.6" y="40.3" font-size="16.6" textLength="88.0" lengthAdjust="spacingAndGlyphs">20MAY2012</text>
<!-- colorbar -->
<g shape-rendering="crispEdges">
<rect x="652" y="77" width="15" height="18.7" fill="#FFEBDC"/>
<rect x="652" y="95.6" width="15" height="18.7" fill="#D8BFD8"/>
<rect x="652" y="114.3" width="15" height="18.7" fill="#DDA0DD"/>
<rect x="652" y="132.9" width="15" height="18.7" fill="#BA55D3"/>
<rect x="652" y="151.6" width="15" height="18.7" fill="#8B008B"/>
<rect x="652" y="170.2" width="15" height="18.7" fill="#960000"/>
<rect x="652" y="188.9" width="15" height="18.7" fill="#C80000"/>
<rect x="652" y="207.5" width="15" height="18.7" fill="#FF0000"/>
<rect x="652" y="226.2" width="15" height="18.7" fill="#FF5A00"/>
<rect x="652" y="244.8" width="15" height="18.7" fill="#F08228"/>
<rect x="652" y="263.5" width="15" height="18.7" fill="#E6AF2D"/>
<rect x="652" y="282.1" width="15" height="18.7" fill="#E6DC32"/>
<rect x="652" y="300.8" width="15" height="18.7" fill="#F0EB5A"/>
<rect x="652" y="319.4" width="15" height="18.7" fill="#DCF0A0"/>
<rect x="652" y="338.1" width="15" height="18.7" fill="#A0E632"/>
<rect x="652" y="356.7" width="15" height="18.7" fill="#00DC00"/>
<rect x="652" y="375.4" width="15" height="18.7" fill="#00AA00"/>
<rect x="652" y="394" width="15" height="18.7" fill="#007800"/>
<rect x="652" y="412.7" width="15" height="18.7" fill="#1E3CFF"/>
<rect x="652" y="431.3" width="15" height="18.7" fill="#00A0EB"/>
<rect x="652" y="450" width="15" height="18.7" fill="#B0DCE6"/>
<rect x="652" y="468.6" width="15" height="18.3" fill="#EBFFFF"/>
</g>
<g class="cb">
<text x="670" y="81.2" textLength="14.4" lengthAdjust="spacing">29</text>
<text x="670" y="99.8" textLength="14.4" lengthAdjust="spacing">27</text>
<text x="670" y="118.5" textLength="14.4" lengthAdjust="spacing">25</text>
<text x="670" y="137.1" textLength="14.4" lengthAdjust="spacing">23</text>
<text x="670" y="155.8" textLength="14.4" lengthAdjust="spacing">21</text>
<text x="670" y="174.4" textLength="14.4" lengthAdjust="spacing">19</text>
<text x="670" y="193.1" textLength="14.4" lengthAdjust="spacing">17</text>
<text x="670" y="211.7" textLength="14.4" lengthAdjust="spacing">15</text>
<text x="670" y="230.4" textLength="14.4" lengthAdjust="spacing">13</text>
<text x="670" y="249" textLength="14.4" lengthAdjust="spacing">11</text>
<text x="670" y="267.7">9</text>
<text x="670" y="286.3">7</text>
<text x="670" y="305">5</text>
<text x="670" y="323.6">3</text>
<text x="670" y="342.3">1</text>
<text x="670" y="360.9" textLength="15.5" lengthAdjust="spacing">−1</text>
<text x="670" y="379.6" textLength="15.5" lengthAdjust="spacing">−3</text>
<text x="670" y="398.2" textLength="15.5" lengthAdjust="spacing">−5</text>
<text x="670" y="416.9" textLength="15.5" lengthAdjust="spacing">−7</text>
<text x="670" y="435.5" textLength="15.5" lengthAdjust="spacing">−9</text>
<text x="670" y="454.2" textLength="25" lengthAdjust="spacing">−11</text>
<text x="670" y="472.8" textLength="25" lengthAdjust="spacing">−13</text>
<text x="670" y="491.5" textLength="25" lengthAdjust="spacing">−15</text>
<text x="670" y="510.1" textLength="25" lengthAdjust="spacing">−17</text>
</g>
<text x="664" y="528.5" font-size="9" textLength="35" lengthAdjust="spacing">(st. C)</text>
</svg>
</body></html>
